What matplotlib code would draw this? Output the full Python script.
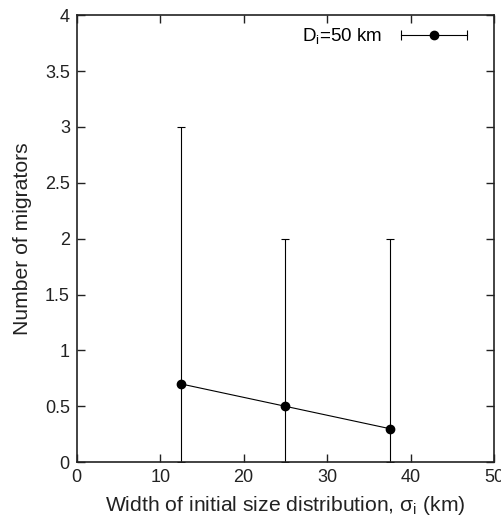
import numpy as np
import matplotlib.pyplot as plt
from matplotlib.lines import Line2D
from matplotlib.legend_handler import HandlerBase

plt.rcParams['font.family'] = ['Liberation Sans', 'DejaVu Sans']
plt.rcParams['mathtext.fontset'] = 'custom'
plt.rcParams['mathtext.rm'] = 'Liberation Sans'
plt.rcParams['mathtext.it'] = 'Liberation Sans'

# mean number of migrators vs. width of initial size distribution
sigma = [12.5, 25.0, 37.5]
migrators = [0.7, 0.5, 0.3]
upper = [3.0, 2.0, 2.0]
lower = [0.0, 0.0, 0.0]

yerr = [np.array(migrators) - np.array(lower), np.array(upper) - np.array(migrators)]


class HandlerHBar(HandlerBase):
    # legend key drawn as a horizontal bar with end caps and a dot in the middle
    def create_artists(self, legend, orig_handle, xdescent, ydescent,
                       width, height, fontsize, trans):
        y = height / 2 - ydescent
        x0, x1 = -xdescent, width - xdescent
        bar = Line2D([x0, x1], [y, y], color='black', lw=0.8)
        caps = Line2D([x0, x1], [y, y], ls='none', marker='|', ms=7,
                      mew=0.8, color='black')
        dot = Line2D([(x0 + x1) / 2], [y], ls='none', marker='o', ms=6,
                     color='black')
        for a in (bar, caps, dot):
            a.set_transform(trans)
        return [bar, caps, dot]


fig = plt.figure(figsize=(5.02, 5.24), dpi=100)
ax = fig.add_axes([0.153, 0.118, 0.831, 0.853])

eb = ax.errorbar(sigma, migrators, yerr=yerr, fmt='-o', color='black', ms=6,
                 lw=0.8, elinewidth=0.8, capsize=3, capthick=0.8)

ax.set_xlim(0, 50)
ax.set_ylim(0, 4)
ax.set_xticks(np.arange(0, 51, 10))
ax.set_yticks(np.arange(0, 4.01, 0.5))
ax.set_yticklabels(['0', '0.5', '1', '1.5', '2', '2.5', '3', '3.5', '4'])
ax.tick_params(direction='in', top=True, right=True, length=6, width=1,
               labelsize=13, colors='#222222', pad=5)
for s in ax.spines.values():
    s.set_linewidth(1.2)
    s.set_color('#222222')

ax.set_xlabel(r'Width of initial size distribution, $\sigma_\mathrm{i}$ (km)',
              fontsize=15.2, color='#222222', labelpad=6)
ax.set_ylabel('Number of migrators', fontsize=15.2, color='#222222', labelpad=9)

ax.legend([eb], [r'D$_\mathrm{i}$=50 km'], loc='upper right',
          bbox_to_anchor=(0.966, 1.005), frameon=False,
          markerfirst=False, fontsize=13.5, handlelength=3.5, handletextpad=1.0,
          borderaxespad=0.3, handler_map={type(eb): HandlerHBar()})

fig.savefig('out.png', dpi=100)
